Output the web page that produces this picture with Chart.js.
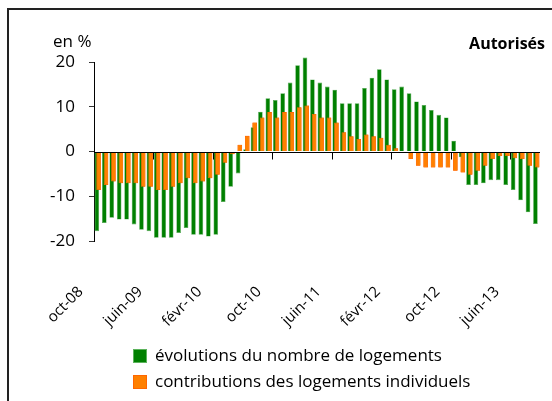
<!DOCTYPE html>
<html>
<head>
<meta charset="utf-8">
<script src="https://cdn.jsdelivr.net/npm/chart.js@4/dist/chart.umd.min.js"></script>
<style>
  html, body { margin: 0; padding: 0; background: #fff; }
  #wrap { position: relative; width: 552px; height: 401px; }
</style>
</head>
<body>
<div id="wrap"><canvas id="chart" width="552" height="401"></canvas></div>
<script>
const mois = [
  'oct-08', 'nov-08', 'déc-08', 'janv-09', 'févr-09', 'mars-09', 'avr-09', 'mai-09',
  'juin-09', 'juil-09', 'août-09', 'sept-09', 'oct-09', 'nov-09', 'déc-09', 'janv-10',
  'févr-10', 'mars-10', 'avr-10', 'mai-10', 'juin-10', 'juil-10', 'août-10', 'sept-10',
  'oct-10', 'nov-10', 'déc-10', 'janv-11', 'févr-11', 'mars-11', 'avr-11', 'mai-11',
  'juin-11', 'juil-11', 'août-11', 'sept-11', 'oct-11', 'nov-11', 'déc-11', 'janv-12',
  'févr-12', 'mars-12', 'avr-12', 'mai-12', 'juin-12', 'juil-12', 'août-12', 'sept-12',
  'oct-12', 'nov-12', 'déc-12', 'janv-13', 'févr-13', 'mars-13', 'avr-13', 'mai-13',
  'juin-13', 'juil-13', 'août-13', 'sept-13'
];

// évolutions du nombre de logements (en %)
const evolutions = [
  -17.8, -16.0, -14.8, -15.2, -15.2, -16.3, -17.5, -17.8,
  -19.3, -19.3, -19.3, -18.2, -17.1, -18.6, -18.6, -19.0,
  -18.6, -11.3, -7.9, -4.9, 0.5, 5.4, 8.9, 11.9,
  11.5, 13.0, 15.4, 19.3, 21.0, 16.1, 15.4, 14.5,
  13.8, 10.8, 10.8, 10.8, 14.2, 16.5, 18.4, 16.1,
  13.9, 14.5, 13.0, 11.2, 10.4, 9.3, 8.2, 7.6,
  2.4, -1.3, -7.5, -7.5, -7.1, -6.4, -6.4, -7.5,
  -8.6, -10.9, -13.6, -16.2
];

// contributions des logements individuels (en points)
const contributions = [
  -8.6, -7.5, -6.7, -7.1, -7.1, -7.1, -7.9, -7.9,
  -8.6, -8.6, -7.9, -7.1, -6.0, -7.1, -6.7, -6.0,
  -5.2, -2.5, -0.6, 1.5, 3.5, 6.5, 7.6, 8.8,
  7.6, 8.8, 8.8, 9.9, 10.3, 8.4, 7.6, 7.6,
  6.5, 4.3, 3.4, 2.8, 3.8, 3.4, 3.1, 1.5,
  0.7, 0.0, -1.7, -3.2, -3.6, -3.6, -3.6, -3.6,
  -4.3, -4.7, -5.2, -4.3, -3.2, -1.7, -1.0, -1.0,
  -1.5, -1.7, -3.2, -3.6
];

const yTicks = [-20, -10, 0, 10, 20];
const pasEtiquettes = 8;

const police = '"Open Sans", sans-serif';

const decor = {
  id: 'decor',
  beforeDraw(chart) {
    const ctx = chart.ctx;
    ctx.save();
    // cadre
    ctx.strokeStyle = '#222';
    ctx.lineWidth = 2;
    ctx.beginPath();
    ctx.moveTo(8, 401);
    ctx.lineTo(8, 9);
    ctx.lineTo(552, 9);
    ctx.stroke();
    // textes
    ctx.fillStyle = '#000';
    ctx.textBaseline = 'middle';
    ctx.font = '17px ' + police;
    ctx.textAlign = 'left';
    ctx.fillText('en %', 53, 42);
    ctx.font = 'bold 16px ' + police;
    ctx.textAlign = 'right';
    ctx.fillText('Autorisés', 545, 44);
    ctx.restore();
  },
  afterDatasetsDraw(chart) {
    // les barres orange passent devant les vertes
    chart.getDatasetMeta(1).controller.draw();

    const { ctx, scales: { x, y }, chartArea } = chart;
    const y0 = Math.round(y.getPixelForValue(0)) + 0.5;
    const demi = (x.getPixelForValue(1) - x.getPixelForValue(0)) / 2;
    ctx.save();
    ctx.strokeStyle = '#000';
    ctx.lineWidth = 1;
    ctx.beginPath();
    ctx.moveTo(chartArea.left, y0);
    ctx.lineTo(chartArea.right, y0);
    for (let i = pasEtiquettes; i < mois.length; i += pasEtiquettes) {
      const px = Math.round(x.getPixelForValue(i) - demi) + 0.5;
      ctx.moveTo(px, y0);
      ctx.lineTo(px, y0 + 7);
    }
    ctx.stroke();

    // légende
    ctx.font = '17px ' + police;
    ctx.textAlign = 'left';
    ctx.textBaseline = 'middle';
    chart.data.datasets.forEach((ds, i) => {
      const yy = 356 + i * 26;
      ctx.fillStyle = ds.backgroundColor;
      ctx.fillRect(133, yy - 7, 14, 14);
      ctx.strokeStyle = ds.legendBorder;
      ctx.lineWidth = 1;
      ctx.strokeRect(133.5, yy - 6.5, 13, 13);
      ctx.fillStyle = '#000';
      ctx.fillText(ds.label, 155, yy);
    });
    ctx.restore();
  }
};

new Chart(document.getElementById('chart'), {
  type: 'bar',
  data: {
    labels: mois,
    datasets: [{
      label: 'évolutions du nombre de logements',
      data: evolutions,
      backgroundColor: '#008000',
      borderColor: '#4fa64f',
      borderWidth: 0.6,
      legendBorder: '#5cb35c',
      categoryPercentage: 0.46,
      barPercentage: 2.7
    }, {
      label: 'contributions des logements individuels',
      data: contributions,
      backgroundColor: '#ff8000',
      borderColor: '#ff6a00',
      borderWidth: 0.8,
      legendBorder: '#ff6600',
      categoryPercentage: 0.46,
      barPercentage: 2.7
    }]
  },
  options: {
    responsive: false,
    animation: false,
    clip: false,
    layout: { padding: { left: 0, right: 12, top: 62, bottom: 0 } },
    plugins: {
      legend: { display: false },
      tooltip: { enabled: false }
    },
    scales: {
      x: {
        grid: { display: false, drawTicks: false },
        border: { display: false },
        afterFit: s => { s.height = 160; s.paddingLeft = 0; s.paddingRight = 0; },
        ticks: {
          autoSkip: false,
          maxRotation: 45,
          minRotation: 45,
          padding: 42,
          labelOffset: -17,
          color: '#000',
          font: { family: police, size: 15 },
          callback: (v, i) => (i % pasEtiquettes === 0 ? mois[i] : '')
        }
      },
      y: {
        min: -20,
        max: 20,
        afterFit: s => { s.width = 94; },
        afterBuildTicks: s => { s.ticks = yTicks.map(v => ({ value: v })); },
        grid: { drawOnChartArea: false, drawTicks: true, tickLength: 5, color: '#333' },
        border: { display: true, color: '#000', width: 1 },
        ticks: {
          padding: 14,
          color: '#000',
          font: { family: police, size: 17 }
        }
      }
    }
  },
  plugins: [decor]
});
</script>
</body>
</html>
